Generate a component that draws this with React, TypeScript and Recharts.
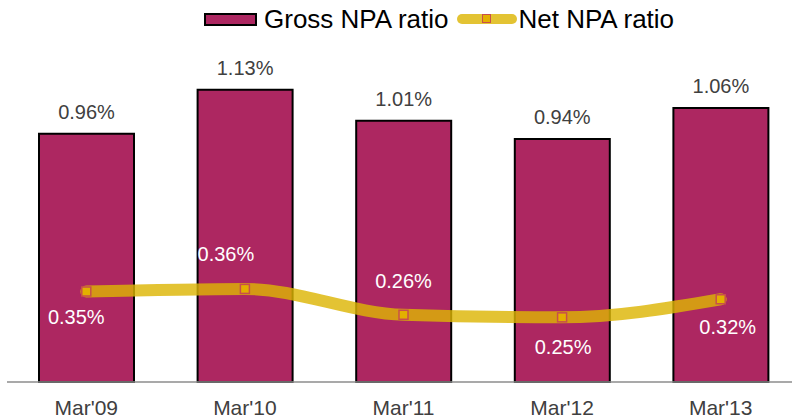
import { Bar, ComposedChart, LabelList, Line, XAxis, YAxis } from "recharts";

const periods = ["Mar'09", "Mar'10", "Mar'11", "Mar'12", "Mar'13"];
const grossNpa = [0.96, 1.13, 1.01, 0.94, 1.06];
const netNpa = [0.35, 0.36, 0.26, 0.25, 0.32];

const data = periods.map((period, i) => ({ period, gross: grossNpa[i], net: netNpa[i] }));

const FONT = "'Liberation Sans', Arial, sans-serif";
const MAROON = "#ad2761";
const GOLD = "#ddb504";
const MARKER_FILL = "#e3b000";
const MARKER_EDGE = "#c8504a";

const pct = (v: unknown) => `${Number(v ?? 0).toFixed(2)}%`;

// net labels are placed around each point by hand, like the original deck
const netLabelShift: [number, number][] = [
  [-10, 32],
  [-19, -28],
  [0, -27],
  [1, 37],
  [7, 35],
];

const SquareDot = (props: any) => {
  const { cx, cy, index } = props;
  if (cx == null || cy == null) return null;
  return (
    <rect
      key={`dot-${index}`}
      x={cx - 4.5}
      y={cy - 4.5}
      width={9}
      height={9}
      fill={MARKER_FILL}
      stroke={MARKER_EDGE}
      strokeWidth={1.5}
    />
  );
};

const NetLabel = (props: any) => {
  const { x, y, value, index } = props;
  const [dx, dy] = netLabelShift[index] ?? [0, -20];
  return (
    <text x={x + dx} y={y + dy} textAnchor="middle" fill="#fff" fontSize={20} fontFamily={FONT}>
      {pct(value)}
    </text>
  );
};

function LegendRow() {
  return (
    <div
      style={{
        position: "absolute",
        top: 4,
        left: 204,
        height: 30,
        display: "flex",
        alignItems: "center",
        fontFamily: FONT,
        fontSize: 26,
        color: "#000",
        whiteSpace: "nowrap",
      }}
    >
      <span
        style={{
          width: 49,
          height: 9,
          background: MAROON,
          border: "2px solid #000",
          display: "inline-block",
          marginRight: 7,
        }}
      />
      <span>Gross NPA ratio</span>
      <span style={{ position: "relative", width: 60, height: 30, marginLeft: 9, marginRight: 1 }}>
        <span
          style={{
            position: "absolute",
            left: 0,
            top: 10,
            width: 60,
            height: 10,
            borderRadius: 5,
            background: GOLD,
            opacity: 0.81,
          }}
        />
        <span
          style={{
            position: "absolute",
            left: 25,
            top: 10,
            width: 7,
            height: 7,
            background: MARKER_FILL,
            border: `1.5px solid ${MARKER_EDGE}`,
          }}
        />
      </span>
      <span>Net NPA ratio</span>
    </div>
  );
}

export default function App() {
  return (
    <div
      style={{
        position: "absolute",
        left: 0,
        top: 0,
        width: 792,
        height: 419,
        overflow: "hidden",
        background: "#fff",
      }}
    >
      <ComposedChart width={800} height={419} data={data} margin={{ top: 20, right: 0, left: 7, bottom: 0 }}>
        <XAxis
          dataKey="period"
          height={37}
          tickLine={false}
          tickSize={0}
          tickMargin={18}
          axisLine={{ stroke: "#8c8c8c", strokeWidth: 1.5 }}
          tick={{ fill: "#404040", fontSize: 21, fontFamily: FONT }}
        />
        <YAxis hide domain={[0, 1.4]} />
        <Bar dataKey="gross" barSize={95} fill={MAROON} stroke="#000" strokeWidth={2} isAnimationActive={false}>
          <LabelList
            dataKey="gross"
            position="top"
            offset={15}
            formatter={pct}
            fill="#404040"
            fontSize={20}
            fontFamily={FONT}
          />
        </Bar>
        <Line
          type="monotone"
          dataKey="net"
          stroke={GOLD}
          strokeOpacity={0.81}
          strokeWidth={12}
          strokeLinecap="round"
          dot={SquareDot}
          activeDot={false}
          isAnimationActive={false}
        >
          <LabelList dataKey="net" content={NetLabel} />
        </Line>
      </ComposedChart>
      <LegendRow />
    </div>
  );
}
